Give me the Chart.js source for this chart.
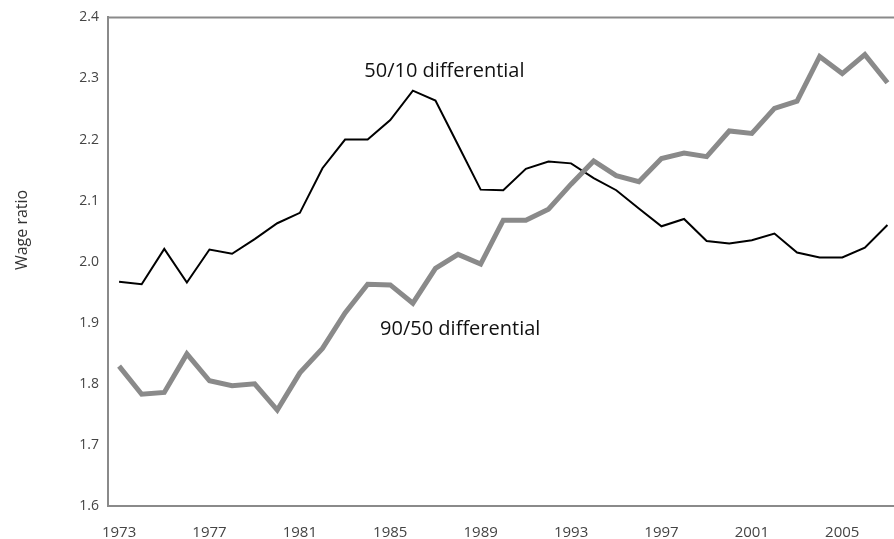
<!DOCTYPE html>
<html>
<head>
<meta charset="utf-8">
<script src="https://cdn.jsdelivr.net/npm/chart.js@4/dist/chart.umd.min.js"></script>
<style>
    html, body { margin: 0; padding: 0; background: #fff; }
    #wrap { width: 894px; height: 539px; position: relative; }
</style>
</head>
<body>
<div id="wrap"><canvas id="chart"></canvas></div>
<script>
const years = [1973, 1974, 1975, 1976, 1977, 1978, 1979, 1980, 1981, 1982, 1983, 1984,
    1985, 1986, 1987, 1988, 1989, 1990, 1991, 1992, 1993, 1994, 1995, 1996,
    1997, 1998, 1999, 2000, 2001, 2002, 2003, 2004, 2005, 2006, 2007];

const diff5010 = [1.967, 1.963, 2.021, 1.966, 2.020, 2.013, 2.037, 2.063, 2.080, 2.153, 2.200, 2.200,
    2.232, 2.280, 2.264, 2.191, 2.118, 2.117, 2.152, 2.164, 2.161, 2.137, 2.117, 2.087,
    2.058, 2.070, 2.034, 2.030, 2.035, 2.046, 2.015, 2.007, 2.007, 2.023, 2.060];

const diff9050 = [1.829, 1.783, 1.786, 1.849, 1.805, 1.797, 1.800, 1.757, 1.818, 1.858, 1.916, 1.963,
    1.962, 1.932, 1.989, 2.012, 1.996, 2.068, 2.068, 2.086, 2.127, 2.165, 2.141, 2.131,
    2.169, 2.178, 2.172, 2.214, 2.210, 2.251, 2.263, 2.336, 2.308, 2.339, 2.293];

const xTicks = [1973, 1977, 1981, 1985, 1989, 1993, 1997, 2001, 2005];
const yTicks = [1.6, 1.7, 1.8, 1.9, 2.0, 2.1, 2.2, 2.3, 2.4];

// line labels, anchored in data units (left edge of text)
const seriesLabels = [
    {text: '50/10 differential', x: 1983.85, y: 2.311},
    {text: '90/50 differential', x: 1984.55, y: 1.889}
];
const yTitle = 'Wage ratio';

const frameColor = '#8a8a8a';
const fontFamily = '"Open Sans", "Noto Sans", sans-serif';

const toPoints = (values) => values.map((v, i) => ({x: years[i], y: v}));

// top border of the plot area + y axis title (sits a bit above centre in the original)
const framePlugin = {
    id: 'frame',
    afterDraw(chart) {
        const {ctx, chartArea} = chart;
        ctx.save();
        ctx.strokeStyle = frameColor;
        ctx.lineWidth = 2;
        ctx.beginPath();
        ctx.moveTo(chartArea.left - 1, chartArea.top);
        ctx.lineTo(chartArea.right, chartArea.top);
        ctx.stroke();

        ctx.translate(22, chartArea.top + (chartArea.bottom - chartArea.top) * 0.435);
        ctx.rotate(-Math.PI / 2);
        ctx.fillStyle = '#333';
        ctx.font = '16px ' + fontFamily;
        ctx.textAlign = 'center';
        ctx.textBaseline = 'middle';
        ctx.fillText(yTitle, 0, 0);
        ctx.restore();
    }
};

const labelPlugin = {
    id: 'seriesLabels',
    afterDatasetsDraw(chart) {
        const {ctx, scales} = chart;
        ctx.save();
        ctx.fillStyle = '#111';
        ctx.font = '20px ' + fontFamily;
        ctx.textAlign = 'left';
        ctx.textBaseline = 'middle';
        seriesLabels.forEach(l => {
            ctx.fillText(l.text, scales.x.getPixelForValue(l.x), scales.y.getPixelForValue(l.y));
        });
        ctx.restore();
    }
};

new Chart(document.getElementById('chart'), {
    type: 'line',
    data: {
        datasets: [
            {
                label: '90/50 differential',
                data: toPoints(diff9050),
                borderColor: '#8a8a8a',
                borderWidth: 5,
                pointRadius: 0,
                tension: 0,
                clip: false
            },
            {
                label: '50/10 differential',
                data: toPoints(diff5010),
                borderColor: '#000',
                borderWidth: 2,
                pointRadius: 0,
                tension: 0,
                clip: false
            }
        ]
    },
    options: {
        responsive: true,
        maintainAspectRatio: false,
        animation: false,
        layout: {padding: {top: 11, right: 0, left: 0, bottom: 0}},
        plugins: {
            legend: {display: false},
            tooltip: {enabled: false}
        },
        scales: {
            x: {
                type: 'linear',
                min: 1972.51,
                max: 2007.29,
                afterBuildTicks: scale => { scale.ticks = xTicks.map(v => ({value: v})); },
                afterFit: scale => { scale.height = 33; },
                border: {display: true, color: frameColor, width: 2},
                grid: {display: false, drawTicks: false},
                ticks: {
                    color: '#444',
                    padding: 18,
                    maxRotation: 0,
                    font: {family: fontFamily, size: 15},
                    callback: v => String(v)
                }
            },
            y: {
                min: 1.6,
                max: 2.4,
                afterBuildTicks: scale => { scale.ticks = yTicks.map(v => ({value: v})); },
                afterFit: scale => { scale.width = 108; },
                border: {display: true, color: frameColor, width: 2},
                grid: {display: false, drawTicks: false},
                ticks: {
                    color: '#444',
                    padding: 9,
                    font: {family: fontFamily, size: 14},
                    callback: v => v.toFixed(1)
                }
            }
        }
    },
    plugins: [framePlugin, labelPlugin]
});
</script>
</body>
</html>
